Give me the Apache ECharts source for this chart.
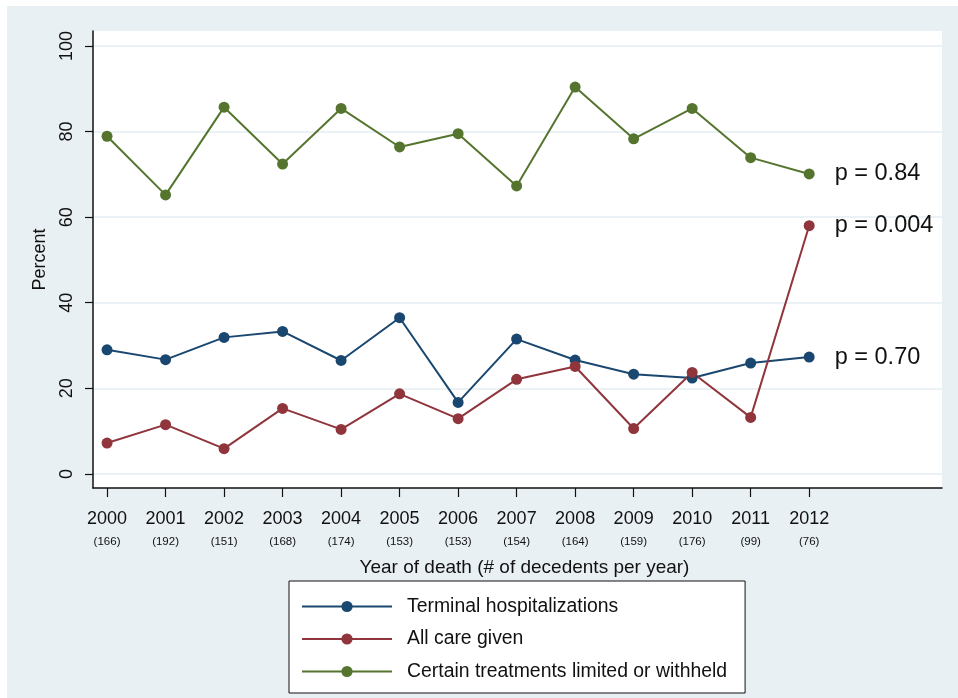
<!DOCTYPE html>
<html>
<head>
<meta charset="utf-8">
<script src="https://cdn.jsdelivr.net/npm/echarts@6/dist/echarts.min.js"></script>
<style>
html,body{margin:0;padding:0;background:#fff;}
#bg{position:absolute;left:7px;top:6px;width:951px;height:692px;background:#e9f0f3;}
#chart{position:absolute;left:0;top:0;width:958px;height:698px;}
</style>
</head>
<body>
<div id="bg"></div>
<div id="chart"></div>
<script>
const years = [2000, 2001, 2002, 2003, 2004, 2005, 2006, 2007, 2008, 2009, 2010, 2011, 2012];
const decedents = [166, 192, 151, 168, 174, 153, 153, 154, 164, 159, 176, 99, 76];
const terminalHosp = [29.0, 26.7, 31.9, 33.3, 26.5, 36.5, 16.7, 31.5, 26.6, 23.3, 22.4, 25.9, 27.3];
const allCareGiven = [7.2, 11.5, 5.9, 15.3, 10.4, 18.7, 12.9, 22.1, 25.1, 10.6, 23.7, 13.2, 58.0];
const limitedWithheld = [78.9, 65.2, 85.7, 72.4, 85.4, 76.4, 79.5, 67.3, 90.4, 78.3, 85.4, 73.9, 70.1];
const seriesNames = ['Terminal hospitalizations', 'All care given', 'Certain treatments limited or withheld'];
const pValues = ['p = 0.70', 'p = 0.004', 'p = 0.84'];
const yTicks = [0, 20, 40, 60, 80, 100];

const FONT = '"Liberation Sans", Arial, sans-serif';
const colors = ['#1a476f', '#90353b', '#55752f'];
const allData = [terminalHosp, allCareGiven, limitedWithheld];

function buildSeries(i) {
  const vals = allData[i];
  const data = years.map((yr, k) => {
    const item = { value: [yr, vals[k]] };
    if (k === years.length - 1) {
      item.label = {
        show: true, position: 'right', distance: 20,
        formatter: pValues[i], fontSize: 23.5, color: '#111', fontFamily: FONT
      };
    }
    return item;
  });
  return {
    name: seriesNames[i],
    type: 'line',
    data: data,
    symbol: 'circle',
    symbolSize: 11,
    color: colors[i],
    lineStyle: { width: 2, color: colors[i] },
    itemStyle: { color: colors[i] },
    label: { show: false },
    emphasis: { disabled: true }
  };
}

const chart = echarts.init(document.getElementById('chart'), null, { renderer: 'canvas' });
chart.setOption({
  animation: false,
  backgroundColor: 'transparent',
  textStyle: { fontFamily: FONT },
  grid: {
    left: 93, top: 31, right: 16, bottom: 210,
    show: true, backgroundColor: '#ffffff', borderWidth: 0
  },
  xAxis: {
    type: 'value',
    min: 1999.76, max: 2014.27,
    name: 'Year of death (# of decedents per year)',
    nameLocation: 'middle',
    nameGap: 70,
    nameTextStyle: { fontSize: 19, color: '#111', fontFamily: FONT, padding: [0, 0, 0, 14] },
    axisLine: { show: true, onZero: false, lineStyle: { color: '#111', width: 1.5 } },
    axisTick: { show: true, length: 9, customValues: years, lineStyle: { color: '#111', width: 1.2 } },
    axisLabel: {
      customValues: years,
      margin: 19,
      formatter: function (v) {
        const k = years.indexOf(Math.round(v));
        return '{y|' + years[k] + '}\n{n|(' + decedents[k] + ')}';
      },
      rich: {
        y: { fontSize: 18, color: '#111', fontFamily: FONT, lineHeight: 24 },
        n: { fontSize: 11.5, color: '#111', fontFamily: FONT, lineHeight: 21 }
      }
    },
    splitLine: { show: false }
  },
  yAxis: {
    type: 'value',
    min: -3.3, max: 103.5,
    name: 'Percent',
    nameLocation: 'middle',
    nameRotate: 90,
    nameGap: 44,
    nameTextStyle: { fontSize: 18, color: '#111', fontFamily: FONT },
    axisLine: { show: true, lineStyle: { color: '#111', width: 1.5 } },
    axisTick: { show: true, length: 8, customValues: yTicks, lineStyle: { color: '#111', width: 1.2 } },
    axisLabel: { customValues: yTicks, rotate: 90, fontSize: 18, color: '#111', fontFamily: FONT, margin: 17 },
    splitLine: { show: true, lineStyle: { color: '#e5eef3', width: 1.5 } }
  },
  legend: {
    orient: 'vertical',
    left: 289, top: 581,
    padding: [16, 18, 12, 12],
    itemGap: 13.5,
    itemWidth: 90,
    itemHeight: 14,
    backgroundColor: '#ffffff',
    borderColor: '#111',
    borderWidth: 1,
    borderRadius: 0,
    textStyle: { fontSize: 19.4, color: '#111', fontFamily: FONT, padding: [0, 0, 0, 10] },
    data: seriesNames
  },
  series: [buildSeries(0), buildSeries(1), buildSeries(2)]
});
</script>
</body>
</html>
